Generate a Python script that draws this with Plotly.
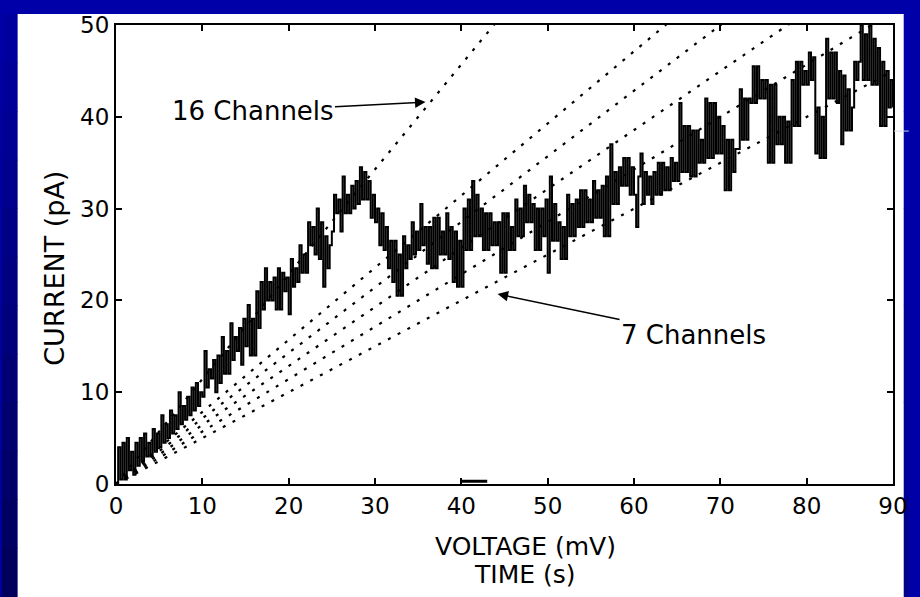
import numpy as np
import plotly.graph_objects as go

# Recorded current trace, sampled every 0.25 mV (four samples per mV row)
step_mv = 0.25
current_pa = [
    0.0, 4.0, 0.5, 4.5,   0.5, 5.0, 1.5, 3.5,   1.0, 4.5, 2.0, 5.0,
    2.5, 5.5, 3.0, 4.5,   3.0, 6.0, 3.5, 5.5,   4.0, 7.5, 4.5, 6.5,
    5.0, 8.0, 5.5, 7.5,   6.0, 10.0, 6.5, 8.5,  7.0, 9.5, 7.5, 10.5,
    8.0, 11.0, 8.5, 10.0,
    9.5, 14.5, 10.5, 12.5,  11.5, 13.5, 10.0, 14.0,  11.0, 16.0, 12.0, 14.5,
    12.0, 17.5, 13.5, 16.0,  14.5, 17.0, 13.0, 18.0,  15.0, 19.5, 14.0, 18.0,
    14.0, 21.0, 17.0, 22.0,  19.0, 23.5, 20.0, 22.0,  20.0, 22.5, 19.0, 23.5,
    19.0, 23.0, 21.0, 22.5,
    18.5, 24.5, 21.5, 23.5,  22.0, 26.0, 23.0, 25.0,  23.0, 28.5, 26.0, 28.0,
    25.0, 30.0, 24.5, 28.5,  21.5, 27.0, 23.5, 26.0,  27.5, 31.5, 29.5, 31.0,
    27.5, 33.5, 29.5, 31.5,  29.5, 32.5, 30.0, 33.0,  30.5, 34.5, 31.0, 34.0,
    31.0, 33.0, 29.0, 31.5,
    28.5, 30.0, 26.0, 29.5,  25.5, 28.0, 23.5, 26.5,  22.0, 26.5, 20.5, 25.0,
    20.5, 27.0, 23.5, 26.0,  24.5, 28.5, 25.0, 27.5,  25.5, 30.5, 26.0, 28.0,
    24.0, 28.0, 23.5, 29.0,  23.5, 29.0, 25.0, 27.5,  25.0, 29.5, 24.5, 28.0,
    22.0, 27.5, 21.5, 26.5,
    21.5, 30.0, 25.5, 31.0,  25.5, 33.0, 27.0, 31.5,  27.0, 30.0, 25.5, 29.5,
    25.5, 29.5, 26.0, 28.5,  26.0, 28.5, 23.0, 29.5,  23.0, 29.5, 25.5, 28.0,
    25.5, 31.0, 27.0, 30.0,  27.0, 32.5, 28.5, 31.5,  28.5, 30.5, 25.5, 30.0,
    25.5, 30.0, 27.0, 31.0,
    23.0, 33.5, 26.5, 30.5,  26.5, 28.5, 24.5, 28.0,  24.5, 31.5, 27.0, 30.5,
    27.0, 31.0, 28.0, 32.0,  28.0, 32.0, 28.5, 31.0,  28.5, 33.0, 29.0, 32.0,
    29.0, 32.5, 27.0, 33.5,  27.0, 37.0, 30.5, 34.0,  30.5, 34.5, 32.5, 35.5,
    32.5, 35.5, 31.5, 34.5,
    31.5, 28.0, 33.5, 36.0,  30.5, 34.0, 31.5, 33.5,  30.5, 34.0, 31.5, 35.0,
    31.5, 35.0, 32.0, 34.5,  32.0, 35.5, 33.0, 35.0,  33.0, 41.5, 34.0, 39.0,
    34.0, 39.0, 33.5, 38.5,  33.5, 38.5, 35.0, 37.5,  35.0, 42.0, 35.5, 41.5,
    35.5, 41.5, 36.0, 40.0,
    36.0, 39.0, 32.0, 37.5,  32.0, 37.5, 34.0, 36.5,  36.5, 43.0, 37.5, 42.0,
    37.5, 42.0, 41.5, 45.5,  41.5, 45.5, 42.0, 44.0,  42.0, 44.0, 35.0, 43.5,
    35.0, 43.5, 37.0, 40.0,  37.0, 40.0, 35.0, 39.5,  35.0, 44.0, 39.0, 46.0,
    39.0, 46.0, 43.5, 45.0,
    43.5, 47.0, 44.0, 46.5,  36.0, 41.0, 35.5, 40.0,  35.5, 48.5, 42.0, 47.0,
    42.0, 47.0, 41.5, 45.0,  37.0, 44.5, 38.5, 43.0,  38.5, 41.0, 46.0, 44.0,
    46.0, 50.0, 44.0, 49.0,  44.0, 50.0, 43.5, 48.5,  43.5, 47.5, 39.0, 46.0,
    39.0, 45.0, 41.0, 44.0,
    41.0,
]
voltage_mv = np.arange(len(current_pa)) * step_mv

# Open-channel reference lines: n channels times the unitary slope
channel_counts = [7, 8, 9, 10, 11, 16]
unit_slope = 0.0714  # pA per mV for a single channel
x_range = [0, 90]
y_range = [0, 50]
x_ticks = [0, 10, 20, 30, 40, 50, 60, 70, 80, 90]
y_ticks = [0, 10, 20, 30, 40, 50]

FONT = "DejaVu Sans"
W, H = 920, 597
L, R, T, B = 116, 16, 21, 113
PW, PH = W - L - R, H - T - B


def px_x(px):
    return (px - L) / PW


def px_y(py):
    return (H - B - py) / PH


fig = go.Figure()

for n in channel_counts:
    fig.add_trace(go.Scatter(
        x=x_range,
        y=[0, n * unit_slope * x_range[1]],
        mode="lines",
        line=dict(color="black", width=2.2, dash="3px,8px"),
        hoverinfo="skip",
        showlegend=False,
    ))

fig.add_trace(go.Scatter(
    x=voltage_mv,
    y=current_pa,
    mode="lines",
    line=dict(color="black", width=2, shape="hv"),
    showlegend=False,
))

shapes = []
# white slide panel behind the chart
shapes.append(dict(type="rect", xref="paper", yref="paper", layer="below",
                   x0=px_x(16), x1=px_x(915), y0=px_y(H + 5), y1=px_y(10),
                   fillcolor="white", line=dict(width=0)))
# darker blue shading down the left and right borders
left_cols = ["#00009e", "#000098", "#000092", "#00008c", "#000086", "#000080",
             "#00007a", "#000074", "#00006e", "#000068", "#000062", "#00005c"]
n_band = len(left_cols)
for i, c in enumerate(left_cols):
    y0 = 10 + (H - 10) * i / n_band
    y1 = 10 + (H - 10) * (i + 1) / n_band
    shapes.append(dict(type="rect", xref="paper", yref="paper", layer="below",
                       x0=px_x(0), x1=px_x(16), y0=px_y(y1 + 1), y1=px_y(y0),
                       fillcolor=c, line=dict(width=0)))
right_cols = ["#0000b0", "#0000aa", "#0000a2", "#00009a", "#000092", "#00008a"]
for i, c in enumerate(right_cols):
    y0 = 10 + (H - 10) * i / len(right_cols)
    y1 = 10 + (H - 10) * (i + 1) / len(right_cols)
    shapes.append(dict(type="rect", xref="paper", yref="paper", layer="below",
                       x0=px_x(915), x1=px_x(W), y0=px_y(y1 + 1), y1=px_y(y0),
                       fillcolor=c, line=dict(width=0)))
# short light stroke leaving the frame on the right
shapes.append(dict(type="line", xref="paper", yref="paper",
                   x0=px_x(905), x1=px_x(W), y0=px_y(128), y1=px_y(128),
                   line=dict(color="#d8d8e8", width=1)))
# small blot on the bottom axis near 40 mV
shapes.append(dict(type="line", xref="x", yref="y",
                   x0=40, x1=43, y0=0.3, y1=0.3,
                   line=dict(color="black", width=3)))

annotations = [
    dict(x=35.85, y=41.6, xref="x", yref="y", ax=-173, ay=9,
         text="16 Channels", showarrow=True, arrowhead=2, arrowsize=1.4,
         arrowwidth=1.5, arrowcolor="black",
         font=dict(family=FONT, size=26, color="black")),
    dict(x=44.2, y=20.7, xref="x", yref="y", ax=196, ay=41,
         text="7 Channels", showarrow=True, arrowhead=2, arrowsize=1.4,
         arrowwidth=1.5, arrowcolor="black",
         font=dict(family=FONT, size=26, color="black")),
    dict(x=px_x(531), y=px_y(547), xref="paper", yref="paper",
         text="VOLTAGE (mV)", showarrow=False, xanchor="center", yanchor="middle",
         font=dict(family=FONT, size=25, color="black")),
    dict(x=px_x(531), y=px_y(575), xref="paper", yref="paper",
         text="TIME (s)", showarrow=False, xanchor="center", yanchor="middle",
         font=dict(family=FONT, size=25, color="black")),
    dict(x=px_x(54), y=px_y(266), xref="paper", yref="paper",
         text="CURRENT (pA)", showarrow=False, textangle=-90,
         xanchor="center", yanchor="middle",
         font=dict(family=FONT, size=27, color="black")),
]

axis_common = dict(
    showgrid=False, zeroline=False,
    showline=True, linecolor="black", linewidth=2, mirror="ticks",
    ticks="inside", ticklen=6, tickwidth=1.5, tickcolor="black",
    tickfont=dict(family=FONT, size=23, color="black"),
)

fig.update_layout(
    width=W, height=H,
    margin=dict(l=L, r=R, t=T, b=B),
    paper_bgcolor="#0000a8",
    plot_bgcolor="white",
    shapes=shapes,
    annotations=annotations,
    xaxis=dict(range=x_range, tickvals=x_ticks, ticklabelstandoff=0, **axis_common),
    yaxis=dict(range=y_range, tickvals=y_ticks, ticklabelstandoff=0, **axis_common),
)

fig.write_html("out.html")
